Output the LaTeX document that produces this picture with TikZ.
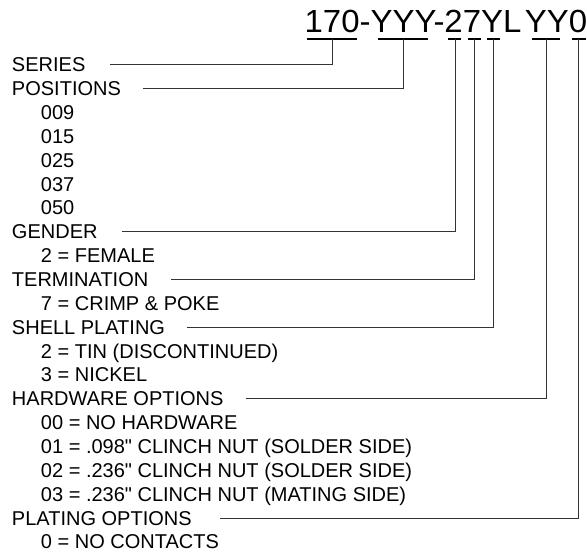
\documentclass[tikz,border=0pt]{standalone}
\usepackage{fontspec}
\setmainfont{Liberation Sans}[Ligatures=TeXOff]
\begin{document}
\begin{tikzpicture}[x=1pt,y=-1pt,
  lbl/.style={anchor=base west,inner sep=0pt,outer sep=0pt,font=\fontsize{20}{24}\selectfont},
  title/.style={anchor=base west,inner sep=0pt,outer sep=0pt,xscale=1.03,font=\fontsize{32}{36}\selectfont},
  uline/.style={line width=2pt,black},
  lead/.style={line width=1pt,black!80}]
\useasboundingbox (0,0) rectangle (587,552);
\node[title] (code) at (304.6,32) {170-YYY-27YL\kern3.4pt YY0};
% underlines
\draw[uline] (307,39) -- (357,39);
\draw[uline] (378,39) -- (428,39);
\draw[uline] (448,39) -- (461,39);
\draw[uline] (468,39) -- (481,39);
\draw[uline] (487,39) -- (500,39);
\draw[uline] (532,39) -- (560,39);
\draw[uline] (572,39) -- (586,39);
\coordinate (cS) at (332,39);
\coordinate (cP) at (403,39);
\coordinate (cG) at (455,39);
\coordinate (cT) at (474.5,39);
\coordinate (cSh) at (493.5,39);
\coordinate (cH) at (546.5,39);
\coordinate (cPl) at (578,39);
% labels
\def\rowy#1{64.6+23.86*#1+7.15}
\node[lbl] (series) at (12,{\rowy{0}}) {SERIES};
\node[lbl] (positions) at (12,{\rowy{1}}) {POSITIONS};
\node[lbl] (p1) at (41,{\rowy{2}}) {009};
\node[lbl] (p2) at (41,{\rowy{3}}) {015};
\node[lbl] (p3) at (41,{\rowy{4}}) {025};
\node[lbl] (p4) at (41,{\rowy{5}}) {037};
\node[lbl] (p5) at (41,{\rowy{6}}) {050};
\node[lbl] (gender) at (12,{\rowy{7}}) {GENDER};
\node[lbl] (g1) at (41,{\rowy{8}}) {2 = FEMALE};
\node[lbl] (term) at (12,{\rowy{9}}) {TERMINATION};
\node[lbl] (t1) at (41,{\rowy{10}}) {7 = CRIMP \& POKE};
\node[lbl] (shell) at (12,{\rowy{11}}) {SHELL PLATING};
\node[lbl] (s1) at (41,{\rowy{12}}) {2 = TIN (DISCONTINUED)};
\node[lbl] (s2) at (41,{\rowy{13}}) {3 = NICKEL};
\node[lbl] (hw) at (12,{\rowy{14}}) {HARDWARE OPTIONS};
\node[lbl] (h1) at (41,{\rowy{15}}) {00 = NO HARDWARE};
\node[lbl] (h2) at (41,{\rowy{16}}) {01 = .098" CLINCH NUT (SOLDER SIDE)};
\node[lbl] (h3) at (41,{\rowy{17}}) {02 = .236" CLINCH NUT (SOLDER SIDE)};
\node[lbl] (h4) at (41,{\rowy{18}}) {03 = .236" CLINCH NUT (MATING SIDE)};
\node[lbl] (plating) at (12,{\rowy{19}}) {PLATING OPTIONS};
\node[lbl] (pl1) at (41,{\rowy{20}}) {0 = NO CONTACTS};
% leaders
\draw[lead] ([xshift=24.6pt]series.east) -| (cS);
\draw[lead] ([xshift=22pt]positions.east) -| (cP);
\draw[lead] ([xshift=24.4pt]gender.east) -| (cG);
\draw[lead] ([xshift=23.2pt]term.east) -| (cT);
\draw[lead] ([xshift=21.5pt]shell.east) -| (cSh);
\draw[lead] ([xshift=22.8pt]hw.east) -| (cH);
\draw[lead] ([xshift=28.8pt]plating.east) -| (cPl);
\end{tikzpicture}
\end{document}
